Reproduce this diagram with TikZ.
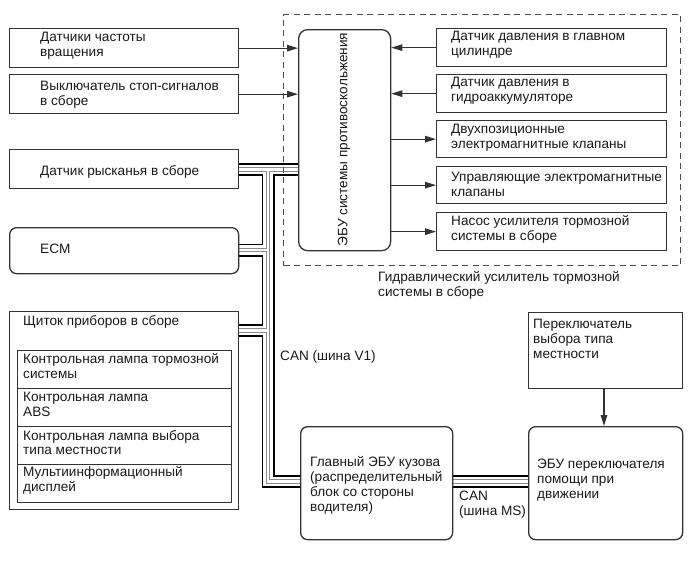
\documentclass[tikz,border=0pt]{standalone}
\usepackage{fontspec}
\setmainfont{Liberation Sans}
\usetikzlibrary{arrows.meta}
\pgfdeclarelayer{background}
\pgfsetlayers{background,main}
\definecolor{boxcol}{HTML}{333333}
\definecolor{txtcol}{HTML}{1A1A1A}
\begin{document}
\begin{tikzpicture}[x=1pt,y=-1pt,
  box/.style={draw=boxcol, line width=1.3pt, fill=white, inner sep=0pt, anchor=north west},
  rbox/.style={box, rounded corners=7pt},
  dashbox/.style={draw=black!70, line width=1.1pt, dash pattern=on 6pt off 4.5pt, inner sep=0pt, anchor=north west},
  txt/.style={anchor=west, align=left, inner sep=0pt, text=txtcol, font=\fontsize{13.6}{14.8}\selectfont},
  arr/.style={draw=boxcol, line width=1.2pt, -{Triangle[length=11pt,width=6.5pt]}}
]
\useasboundingbox (0,0) rectangle (690,562);

% hydraulic booster group
\node[dashbox, minimum width=397pt, minimum height=251pt] (hyd) at (283,14) {};
\node[txt] (hydtxt) at (378,285) {Гидравлический усилитель тормозной\\системы в сборе};

% left boxes
\node[box, minimum width=229pt, minimum height=39pt] (speed) at (9,28) {};
\node[txt] (speedtxt) at (40,46) {Датчики частоты\\вращения};
\node[box, minimum width=229pt, minimum height=39pt] (stop) at (9,74) {};
\node[txt] (stoptxt) at (40,95) {Выключатель стоп-сигналов\\в сборе};
\node[box, minimum width=229pt, minimum height=39pt] (yaw) at (9,149) {};
\node[txt] (yawtxt) at (40,172) {Датчик рысканья в сборе};
\node[rbox, minimum width=229pt, minimum height=46pt] (ecm) at (9,227) {};
\node[txt] (ecmtxt) at (40,249) {ECM};

% instrument cluster
\node[box, minimum width=229pt, minimum height=198pt] (clu) at (9,311) {};
\node[txt] (clutxt) at (23,322) {Щиток приборов в сборе};
\node[box, minimum width=214pt, minimum height=38pt] (l1) at (17,350) {};
\node[txt] (l1txt) at (23,366) {Контрольная лампа тормозной\\системы};
\node[box, minimum width=214pt, minimum height=38pt] (l2) at (17,388) {};
\node[txt] (l2txt) at (23,404.5) {Контрольная лампа\\ABS};
\node[box, minimum width=214pt, minimum height=38pt] (l3) at (17,426) {};
\node[txt] (l3txt) at (23,442.5) {Контрольная лампа выбора\\типа местности};
\node[box, minimum width=214pt, minimum height=38pt] (l4) at (17,464) {};
\node[txt] (l4txt) at (23,480.5) {Мультиинформационный\\дисплей};

% ABS ECU
\node[box, rounded corners=9pt, minimum width=92pt, minimum height=221pt] (abs) at (298,29) {};
\node[txt, anchor=center, rotate=90] (abstxt) at (344,139.5) {ЭБУ системы противоскольжения};

% right boxes
\node[box, minimum width=230pt, minimum height=38pt] (p1) at (436,28) {};
\node[txt] (p1txt) at (451,45) {Датчик давления в главном\\цилиндре};
\node[box, minimum width=230pt, minimum height=38pt] (p2) at (436,74) {};
\node[txt] (p2txt) at (451,91) {Датчик давления в\\гидроаккумуляторе};
\node[box, minimum width=230pt, minimum height=37pt] (p3) at (436,120) {};
\node[txt] (p3txt) at (451,137.5) {Двухпозиционные\\электромагнитные клапаны};
\node[box, minimum width=230pt, minimum height=37pt] (p4) at (436,166) {};
\node[txt] (p4txt) at (451,184.5) {Управляющие электромагнитные\\клапаны};
\node[box, minimum width=230pt, minimum height=38pt] (p5) at (436,212) {};
\node[txt] (p5txt) at (451,229.5) {Насос усилителя тормозной\\системы в сборе};

% bottom
\node[rbox, minimum width=152pt, minimum height=113pt] (body) at (300,426) {};
\node[txt] (bodytxt) at (310,485.5) {Главный ЭБУ кузова\\(распределительный\\блок со стороны\\водителя)};
\node[rbox, minimum width=154pt, minimum height=113pt] (assist) at (528,426) {};
\node[txt] (assisttxt) at (537,480) {ЭБУ переключателя\\помощи при\\движении};
\node[box, minimum width=154pt, minimum height=76pt] (terr) at (528,312) {};
\node[txt] (terrtxt) at (533,339) {Переключатель\\выбора типа\\местности};

\node[txt] (canv1) at (280,357) {CAN (шина V1)};
\node[txt] (canms) at (459,504.5) {CAN\\(шина MS)};

% bus junctions
\coordinate (j1) at (268,169.5);
\coordinate (j2) at (268,250);
\coordinate (j3) at (268,330.5);
\coordinate (j4) at (268,481.5);

\begin{pgfonlayer}{background}
\fill[white] (0,0) rectangle (690,562);
\foreach \w/\c in {13/black,9.4/white,4.6/black!45,2.4/white}{
  \draw[line width=\w pt, draw=\c, line join=miter]
    (yaw.east |- j1) -- (abs.west |- j1)
    (j1) -- (j4) -- (body.west |- j4)
    (ecm.east |- j2) -- (j2)
    (clu.east |- j3) -- (j3)
    (body.east |- j4) -- (assist.west |- j4);
}
\end{pgfonlayer}

% signal arrows
\draw[arr] (speed.east) -- (speed.east -| abs.west);
\draw[arr] (stop.east) -- (stop.east -| abs.west);
\draw[arr] (p1.west) -- (p1.west -| abs.east);
\draw[arr] (p2.west) -- (p2.west -| abs.east);
\draw[arr] (p3.west -| abs.east) -- (p3.west);
\draw[arr] (p4.west -| abs.east) -- (p4.west);
\draw[arr] (p5.west -| abs.east) -- (p5.west);
\draw[arr] (terr.south -| 604,0) -- (assist.north -| 604,0);
\end{tikzpicture}
\end{document}
